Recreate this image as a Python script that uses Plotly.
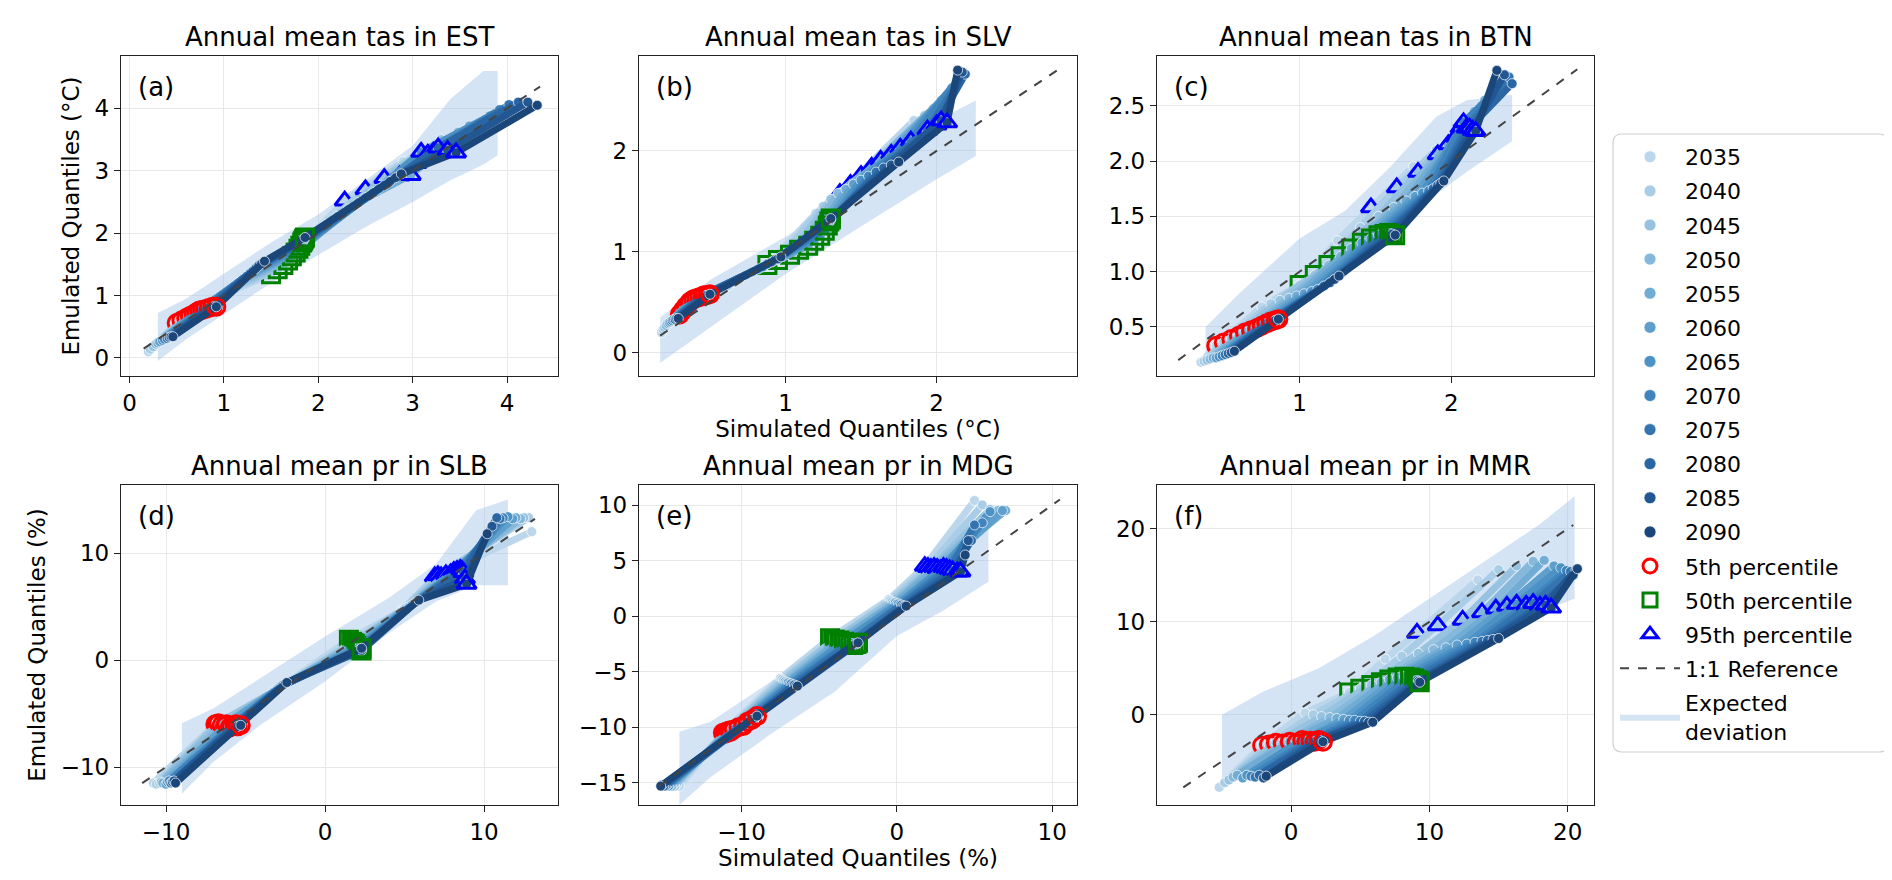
import plotly.graph_objects as go

YEARS = [2035, 2040, 2045, 2050, 2055, 2060, 2065, 2070, 2075, 2080, 2085, 2090]

# Each *_SIM / *_EMU holds 7 rows (min, 5th, 25th, 50th, 75th, 95th, max quantile),
# each row has one value per year (2035 ... 2090).
A_SIM = [
    [0.20, 0.22, 0.25, 0.28, 0.30, 0.32, 0.35, 0.37, 0.40, 0.42, 0.44, 0.46],
    [0.50, 0.55, 0.60, 0.64, 0.68, 0.71, 0.74, 0.77, 0.80, 0.84, 0.88, 0.92],
    [1.00, 1.06, 1.11, 1.16, 1.20, 1.24, 1.28, 1.31, 1.34, 1.37, 1.40, 1.43],
    [1.50, 1.57, 1.63, 1.68, 1.72, 1.76, 1.79, 1.81, 1.83, 1.84, 1.85, 1.86],
    [1.95, 2.08, 2.20, 2.32, 2.42, 2.50, 2.58, 2.64, 2.70, 2.76, 2.82, 2.88],
    [2.28, 2.50, 2.70, 2.86, 2.98, 3.04, 3.09, 3.16, 3.22, 3.27, 3.37, 3.46],
    [2.90, 3.10, 3.30, 3.48, 3.60, 3.72, 3.82, 3.92, 4.02, 4.12, 4.22, 4.32],
]
A_EMU = [
    [0.10, 0.14, 0.18, 0.22, 0.24, 0.26, 0.28, 0.30, 0.31, 0.33, 0.34, 0.34],
    [0.56, 0.60, 0.64, 0.67, 0.70, 0.73, 0.76, 0.77, 0.78, 0.80, 0.82, 0.82],
    [1.02, 1.09, 1.15, 1.21, 1.26, 1.31, 1.36, 1.40, 1.44, 1.48, 1.51, 1.55],
    [1.34, 1.42, 1.49, 1.56, 1.63, 1.69, 1.75, 1.80, 1.85, 1.88, 1.91, 1.93],
    [2.00, 2.14, 2.27, 2.39, 2.49, 2.57, 2.65, 2.71, 2.77, 2.83, 2.89, 2.95],
    [2.52, 2.70, 2.88, 2.92, 2.93, 3.12, 3.30, 3.27, 3.30, 3.37, 3.33, 3.29],
    [3.15, 3.32, 3.50, 3.62, 3.72, 3.78, 3.88, 3.98, 4.06, 4.10, 4.10, 4.05],
]
B_SIM = [
    [0.18, 0.19, 0.20, 0.21, 0.22, 0.23, 0.24, 0.25, 0.26, 0.27, 0.28, 0.29],
    [0.30, 0.32, 0.34, 0.36, 0.37, 0.39, 0.41, 0.43, 0.45, 0.46, 0.48, 0.50],
    [0.62, 0.66, 0.70, 0.74, 0.78, 0.82, 0.85, 0.88, 0.91, 0.93, 0.95, 0.97],
    [0.88, 0.95, 1.03, 1.09, 1.15, 1.19, 1.23, 1.26, 1.28, 1.29, 1.30, 1.30],
    [1.20, 1.25, 1.30, 1.35, 1.40, 1.45, 1.50, 1.55, 1.60, 1.65, 1.70, 1.75],
    [1.36, 1.43, 1.50, 1.57, 1.63, 1.70, 1.76, 1.83, 1.94, 2.00, 2.03, 2.07],
    [1.85, 1.92, 1.98, 2.03, 2.07, 2.10, 2.13, 2.15, 2.17, 2.19, 2.17, 2.14],
]
B_EMU = [
    [0.20, 0.23, 0.25, 0.27, 0.29, 0.30, 0.31, 0.32, 0.33, 0.33, 0.34, 0.34],
    [0.38, 0.42, 0.46, 0.49, 0.51, 0.53, 0.54, 0.55, 0.56, 0.57, 0.57, 0.58],
    [0.66, 0.70, 0.74, 0.77, 0.80, 0.83, 0.85, 0.88, 0.90, 0.92, 0.93, 0.95],
    [0.87, 0.92, 0.97, 1.02, 1.06, 1.11, 1.16, 1.21, 1.26, 1.30, 1.32, 1.33],
    [1.38, 1.45, 1.52, 1.58, 1.62, 1.67, 1.71, 1.75, 1.79, 1.83, 1.86, 1.89],
    [1.58, 1.67, 1.76, 1.84, 1.91, 1.97, 2.03, 2.10, 2.21, 2.26, 2.30, 2.28],
    [2.30, 2.35, 2.42, 2.50, 2.55, 2.62, 2.68, 2.72, 2.74, 2.76, 2.78, 2.80],
]
C_SIM = [
    [0.35, 0.37, 0.39, 0.41, 0.43, 0.45, 0.47, 0.49, 0.51, 0.53, 0.55, 0.57],
    [0.45, 0.50, 0.55, 0.60, 0.64, 0.68, 0.72, 0.75, 0.78, 0.81, 0.84, 0.86],
    [0.75, 0.81, 0.87, 0.93, 0.98, 1.03, 1.08, 1.12, 1.16, 1.20, 1.23, 1.26],
    [1.00, 1.10, 1.19, 1.27, 1.34, 1.41, 1.47, 1.52, 1.56, 1.59, 1.61, 1.63],
    [1.25, 1.40, 1.52, 1.62, 1.70, 1.76, 1.81, 1.85, 1.88, 1.91, 1.93, 1.95],
    [1.47, 1.64, 1.78, 1.91, 1.98, 2.03, 2.06, 2.08, 2.10, 2.12, 2.14, 2.16],
    [1.75, 1.90, 2.05, 2.15, 2.22, 2.28, 2.32, 2.36, 2.38, 2.40, 2.35, 2.30],
]
C_EMU = [
    [0.18, 0.19, 0.20, 0.21, 0.22, 0.22, 0.23, 0.24, 0.25, 0.26, 0.27, 0.28],
    [0.33, 0.36, 0.39, 0.42, 0.45, 0.47, 0.49, 0.51, 0.53, 0.55, 0.56, 0.57],
    [0.68, 0.71, 0.74, 0.76, 0.78, 0.80, 0.82, 0.84, 0.87, 0.90, 0.93, 0.96],
    [0.88, 0.97, 1.06, 1.14, 1.21, 1.26, 1.30, 1.33, 1.34, 1.35, 1.34, 1.33],
    [1.28, 1.40, 1.50, 1.58, 1.64, 1.68, 1.71, 1.73, 1.75, 1.78, 1.80, 1.82],
    [1.58, 1.76, 1.90, 2.06, 2.15, 2.22, 2.30, 2.35, 2.30, 2.30, 2.28, 2.27],
    [1.95, 2.10, 2.28, 2.45, 2.55, 2.62, 2.68, 2.72, 2.76, 2.70, 2.78, 2.82],
]
D_SIM = [
    [-10.8, -10.6, -10.4, -10.3, -10.2, -10.0, -9.9, -9.8, -9.7, -9.6, -9.5, -9.4],
    [-6.9, -6.8, -6.7, -6.5, -6.3, -6.2, -6.0, -5.9, -5.7, -5.6, -5.5, -5.3],
    [-3.5, -3.4, -3.3, -3.2, -3.1, -3.0, -2.9, -2.8, -2.7, -2.6, -2.5, -2.4],
    [1.5, 1.7, 1.8, 1.9, 2.0, 2.0, 2.1, 2.1, 2.2, 2.2, 2.3, 2.3],
    [4.8, 4.9, 5.0, 5.1, 5.2, 5.3, 5.4, 5.5, 5.6, 5.7, 5.8, 5.9],
    [6.9, 7.1, 7.3, 7.6, 7.9, 8.1, 8.3, 8.5, 8.6, 8.7, 8.8, 8.9],
    [13.0, 12.8, 12.5, 12.3, 12.0, 11.8, 11.5, 11.2, 11.0, 10.8, 10.5, 10.2],
]
D_EMU = [
    [-11.5, -11.6, -11.5, -11.4, -11.5, -11.6, -11.4, -11.3, -11.5, -11.4, -11.3, -11.5],
    [-6.0, -6.0, -5.9, -6.1, -6.2, -6.0, -6.3, -6.2, -6.1, -6.0, -6.2, -6.1],
    [-3.3, -3.2, -3.0, -2.9, -2.8, -2.7, -2.6, -2.5, -2.4, -2.3, -2.2, -2.1],
    [1.9, 1.7, 1.6, 1.5, 1.4, 1.3, 1.2, 1.1, 1.0, 1.0, 0.9, 1.1],
    [4.6, 4.7, 4.8, 4.9, 4.9, 5.0, 5.1, 5.2, 5.3, 5.4, 5.5, 5.6],
    [7.8, 7.9, 7.8, 8.0, 8.1, 8.3, 8.4, 8.5, 8.4, 8.2, 7.6, 7.1],
    [12.0, 13.3, 13.3, 13.2, 13.3, 13.2, 13.4, 13.3, 13.2, 13.3, 12.5, 11.8],
]
E_SIM = [
    [-14.0, -14.2, -14.3, -14.4, -14.5, -14.6, -14.7, -14.8, -14.9, -15.0, -15.1, -15.2],
    [-11.2, -11.1, -11.0, -10.9, -10.8, -10.7, -10.5, -10.2, -9.9, -9.6, -9.3, -9.0],
    [-7.5, -7.4, -7.3, -7.2, -7.1, -7.0, -6.9, -6.8, -6.7, -6.6, -6.5, -6.4],
    [-4.3, -4.1, -4.0, -3.9, -3.7, -3.6, -3.4, -3.2, -3.0, -2.8, -2.6, -2.5],
    [-0.5, -0.4, -0.3, -0.2, -0.1, 0.0, 0.1, 0.2, 0.3, 0.4, 0.5, 0.6],
    [1.8, 2.0, 2.2, 2.4, 2.6, 2.8, 3.0, 3.2, 3.4, 3.6, 3.9, 4.1],
    [5.0, 5.5, 6.0, 6.5, 7.0, 6.8, 6.0, 5.5, 5.0, 4.8, 4.6, 4.4],
]
E_EMU = [
    [-15.3, -15.2, -15.3, -15.2, -15.3, -15.2, -15.3, -15.2, -15.3, -15.3, -15.2, -15.3],
    [-10.5, -10.6, -10.4, -10.5, -10.3, -10.4, -10.2, -10.0, -9.9, -9.5, -9.3, -9.0],
    [-5.6, -5.7, -5.8, -5.9, -6.0, -6.0, -6.1, -6.1, -6.2, -6.2, -6.3, -6.3],
    [-2.0, -2.2, -2.1, -2.3, -2.2, -2.4, -2.3, -2.5, -2.4, -2.6, -2.5, -2.4],
    [1.5, 1.4, 1.3, 1.2, 1.2, 1.1, 1.1, 1.0, 1.0, 0.9, 0.9, 0.9],
    [4.5, 4.4, 4.3, 4.4, 4.3, 4.2, 4.4, 4.3, 4.2, 4.1, 4.0, 4.0],
    [10.4, 10.0, 9.6, 9.5, 9.5, 9.5, 9.4, 8.4, 8.2, 6.8, 6.8, 5.5],
]
F_SIM = [
    [-5.2, -4.8, -4.5, -4.2, -3.9, -3.5, -3.2, -2.9, -2.6, -2.3, -2.0, -1.8],
    [-2.1, -1.6, -1.1, -0.6, -0.1, 0.4, 0.8, 1.1, 1.4, 1.7, 2.0, 2.3],
    [1.0, 1.6, 2.2, 2.8, 3.3, 3.8, 4.2, 4.6, 5.0, 5.3, 5.6, 5.9],
    [4.2, 5.0, 5.8, 6.5, 7.1, 7.7, 8.2, 8.6, 8.9, 9.1, 9.2, 9.3],
    [6.8, 8.0, 9.2, 10.3, 11.2, 12.0, 12.7, 13.3, 13.8, 14.2, 14.6, 15.0],
    [9.1, 10.6, 12.4, 13.8, 14.8, 15.6, 16.3, 17.0, 17.5, 18.0, 18.4, 18.8],
    [13.5, 15.0, 16.3, 17.5, 18.3, 19.0, 19.5, 19.9, 20.2, 20.4, 20.6, 20.7],
]
F_EMU = [
    [-7.8, -7.3, -7.0, -6.7, -6.5, -6.8, -6.5, -6.6, -6.7, -6.5, -6.8, -6.6],
    [-3.3, -3.2, -3.0, -3.1, -2.9, -3.0, -2.7, -2.9, -2.8, -2.9, -2.7, -2.9],
    [0.2, 0.0, -0.2, -0.3, -0.4, -0.5, -0.6, -0.6, -0.7, -0.7, -0.8, -0.8],
    [2.4, 2.8, 3.2, 3.5, 3.8, 4.0, 4.1, 4.0, 3.9, 3.7, 3.6, 3.5],
    [6.0, 6.3, 6.6, 7.0, 7.2, 7.5, 7.6, 7.8, 7.9, 8.0, 8.1, 8.2],
    [8.8, 9.6, 10.2, 11.0, 11.4, 11.7, 11.9, 11.8, 12.0, 11.7, 11.8, 11.5],
    [14.5, 15.6, 16.0, 16.5, 16.6, 16.0, 15.8, 15.5, 15.4, 15.0, 15.6, 15.7],
]

# Expected-deviation bands (x, lower, upper)
A_BAND_X = [0.30, 0.60, 1.00, 1.50, 2.00, 2.50, 3.00, 3.40, 3.75, 3.90]
A_BAND_LO = [-0.05, 0.30, 0.70, 1.20, 1.65, 2.10, 2.50, 2.85, 3.10, 3.25]
A_BAND_HI = [0.72, 0.95, 1.35, 1.85, 2.30, 2.85, 3.40, 4.15, 4.60, 4.60]
B_BAND_X = [0.17, 0.50, 1.00, 1.50, 2.00, 2.26]
B_BAND_LO = [-0.10, 0.25, 0.78, 1.25, 1.72, 1.95]
B_BAND_HI = [0.35, 0.72, 1.15, 1.60, 2.30, 2.50]
C_BAND_X = [0.38, 0.60, 1.00, 1.30, 1.60, 1.90, 2.10, 2.40]
C_BAND_LO = [0.15, 0.35, 0.70, 0.95, 1.35, 1.70, 1.90, 2.18]
C_BAND_HI = [0.50, 0.80, 1.30, 1.55, 1.95, 2.40, 2.55, 2.60]
D_BAND_X = [-9.0, -7.0, -4.0, 0.0, 4.0, 7.0, 9.5, 11.5]
D_BAND_LO = [-12.5, -9.5, -6.0, -2.0, 2.5, 5.5, 7.0, 7.0]
D_BAND_HI = [-5.9, -4.5, -1.6, 2.2, 5.8, 9.0, 14.0, 15.0]
E_BAND_X = [-14.0, -12.0, -8.0, -4.0, 0.0, 3.0, 5.9]
E_BAND_LO = [-17.0, -14.5, -10.5, -6.8, -1.8, 0.5, 3.1]
E_BAND_HI = [-10.4, -9.5, -5.8, -1.8, 2.4, 5.5, 8.7]
F_BAND_X = [-5.0, -2.0, 2.0, 6.0, 10.0, 14.0, 18.0, 20.5]
F_BAND_LO = [-7.5, -5.0, -1.5, 1.5, 5.0, 8.0, 11.0, 12.5]
F_BAND_HI = [0.0, 2.5, 5.0, 8.5, 12.5, 16.5, 20.5, 23.5]

# 1:1 reference line extents
A_REF = [0.15, 4.35]
B_REF = [0.17, 2.80]
C_REF = [0.20, 2.83]
D_REF = [-11.5, 13.2]
E_REF = [-15.3, 10.5]
F_REF = [-7.8, 20.4]

TITLES = ["Annual mean tas in EST", "Annual mean tas in SLV", "Annual mean tas in BTN",
          "Annual mean pr in SLB", "Annual mean pr in MDG", "Annual mean pr in MMR"]
LABELS = ["(a)", "(b)", "(c)", "(d)", "(e)", "(f)"]

YEAR_COLORS = ["#bcd7ec", "#a9cde6", "#98c3e0", "#85b8da", "#71acd4", "#5f9fcd",
               "#4d92c5", "#3f84bc", "#3475b0", "#2a66a3", "#215793", "#1b4679"]
BAND_COLOR = "rgba(160,196,232,0.45)"
FONT = "DejaVu Sans"

W, H = 1892, 880
COLS = [(113, 550), (631, 1069), (1149, 1586)]
ROWS = [(48, 368), (477, 797)]
LEG_BOX = (1605, 126, 1880, 744)  # left, top, right, bottom in px

panels = [
    dict(sim=A_SIM, emu=A_EMU, band=(A_BAND_X, A_BAND_LO, A_BAND_HI), ref=A_REF,
         xr=[-0.09, 4.54], yr=[-0.29, 4.84], xt=[0, 1, 2, 3, 4], yt=[0, 1, 2, 3, 4], fmt=None),
    dict(sim=B_SIM, emu=B_EMU, band=(B_BAND_X, B_BAND_LO, B_BAND_HI), ref=B_REF,
         xr=[0.03, 2.93], yr=[-0.23, 2.94], xt=[1, 2], yt=[0, 1, 2], fmt=None),
    dict(sim=C_SIM, emu=C_EMU, band=(C_BAND_X, C_BAND_LO, C_BAND_HI), ref=C_REF,
         xr=[0.06, 2.94], yr=[0.056, 2.95], xt=[1, 2], yt=[0.5, 1.0, 1.5, 2.0, 2.5], fmt=".1f"),
    dict(sim=D_SIM, emu=D_EMU, band=(D_BAND_X, D_BAND_LO, D_BAND_HI), ref=D_REF,
         xr=[-12.83, 14.65], yr=[-13.55, 16.36], xt=[-10, 0, 10], yt=[-10, 0, 10], fmt=None),
    dict(sim=E_SIM, emu=E_EMU, band=(E_BAND_X, E_BAND_LO, E_BAND_HI), ref=E_REF,
         xr=[-16.6, 11.6], yr=[-17.0, 11.8], xt=[-10, 0, 10], yt=[-15, -10, -5, 0, 5, 10], fmt=None),
    dict(sim=F_SIM, emu=F_EMU, band=(F_BAND_X, F_BAND_LO, F_BAND_HI), ref=F_REF,
         xr=[-9.7, 21.9], yr=[-9.7, 24.7], xt=[0, 10, 20], yt=[0, 10, 20], fmt=None),
]

fig = go.Figure()
annotations = []
layout_axes = {}

for k, p in enumerate(panels):
    r, c = divmod(k, 3)
    l, rr = COLS[c]
    t, b = ROWS[r]
    xa = "x" if k == 0 else f"x{k+1}"
    ya = "y" if k == 0 else f"y{k+1}"
    xname = "xaxis" if k == 0 else f"xaxis{k+1}"
    yname = "yaxis" if k == 0 else f"yaxis{k+1}"

    bx, blo, bhi = p["band"]
    fig.add_trace(go.Scatter(
        x=bx + bx[::-1], y=blo + bhi[::-1], fill="toself", fillcolor=BAND_COLOR,
        line=dict(width=0), mode="lines", hoverinfo="skip",
        name="Expected<br>deviation", showlegend=(k == 0), legendrank=17,
        legendgroup="band", xaxis=xa, yaxis=ya))

    sim, emu = p["sim"], p["emu"]
    for i, yr in enumerate(YEARS):
        xs = [row[i] for row in sim]
        ys = [row[i] for row in emu]
        fig.add_trace(go.Scatter(
            x=xs, y=ys, mode="lines+markers",
            line=dict(color=YEAR_COLORS[i], width=7),
            marker=dict(size=10, color=YEAR_COLORS[i], line=dict(color="white", width=0.7)),
            name=str(yr), showlegend=False, xaxis=xa, yaxis=ya))
        fig.add_trace(go.Scatter(
            x=[sim[1][i], sim[3][i], sim[5][i]], y=[emu[1][i], emu[3][i], emu[5][i]],
            mode="markers",
            marker=dict(size=17, symbol=["circle-open", "square-open", "triangle-up-open"],
                        color=["#ff0000", "#008000", "#0000ff"], line=dict(width=3)),
            showlegend=False, xaxis=xa, yaxis=ya))

    fig.add_trace(go.Scatter(
        x=p["ref"], y=p["ref"], mode="lines",
        line=dict(color="#444444", width=2, dash="dash"),
        showlegend=False, xaxis=xa, yaxis=ya))

    axis_common = dict(showline=True, mirror=True, linecolor="#222222", linewidth=1.3,
                       ticks="outside", ticklen=6, tickwidth=1.2, tickcolor="#222222",
                       showgrid=True, gridcolor="#e8e8e8", gridwidth=1, zeroline=False,
                       tickfont=dict(family=FONT, size=23, color="black"))
    layout_axes[xname] = dict(axis_common, domain=[l / W, rr / W], range=p["xr"],
                              tickvals=p["xt"], anchor=ya)
    yax = dict(axis_common, domain=[1 - b / H, 1 - t / H], range=p["yr"],
               tickvals=p["yt"], anchor=xa)
    if p["fmt"]:
        yax["tickformat"] = p["fmt"]
    layout_axes[yname] = yax

    annotations.append(dict(text=TITLES[k], x=(l + rr) / 2 / W, y=1 - t / H, xref="paper",
                            yref="paper", xanchor="center", yanchor="bottom", yshift=2,
                            showarrow=False, font=dict(family=FONT, size=26, color="black")))
    annotations.append(dict(text=LABELS[k], x=(l + 15) / W, y=1 - (t + 31) / H, xref="paper",
                            yref="paper", xanchor="left", yanchor="middle",
                            showarrow=False, font=dict(family=FONT, size=26, color="black")))

# axis titles
layout_axes["yaxis"]["title"] = dict(text="Emulated Quantiles (°C)", font=dict(family=FONT, size=23), standoff=8)
layout_axes["yaxis4"]["title"] = dict(text="Emulated Quantiles (%)", font=dict(family=FONT, size=23), standoff=8)
layout_axes["xaxis2"]["title"] = dict(text="Simulated Quantiles (°C)", font=dict(family=FONT, size=23), standoff=6)
layout_axes["xaxis5"]["title"] = dict(text="Simulated Quantiles (%)", font=dict(family=FONT, size=23), standoff=6)

# legend-only entries
for i, yr in enumerate(YEARS):
    fig.add_trace(go.Scatter(
        x=[None], y=[None], mode="markers",
        marker=dict(size=12, color=YEAR_COLORS[i], line=dict(color="white", width=0.7)),
        name=str(yr), legendrank=i + 1, legendgroup=f"g{i}", showlegend=True))
for j, (nm, sym, col) in enumerate([("5th percentile", "circle-open", "#ff0000"),
                                     ("50th percentile", "square-open", "#008000"),
                                     ("95th percentile", "triangle-up-open", "#0000ff")]):
    fig.add_trace(go.Scatter(
        x=[None], y=[None], mode="markers",
        marker=dict(size=14, symbol=sym, color=col, line=dict(width=3)),
        name=nm, legendrank=13 + j, legendgroup=f"p{j}", showlegend=True))
fig.add_trace(go.Scatter(
    x=[None], y=[None], mode="lines", line=dict(color="#444444", width=2, dash="dash"),
    name="1:1 Reference", legendrank=16, legendgroup="ref", showlegend=True))

# rounded legend frame
lx0, ly0, lx1, ly1 = LEG_BOX
rad = 9
X = lambda v: v / W
Y = lambda v: 1 - v / H
frame = (f"M {X(lx0 + rad)},{Y(ly0)} L {X(lx1 - rad)},{Y(ly0)} Q {X(lx1)},{Y(ly0)} {X(lx1)},{Y(ly0 + rad)} "
         f"L {X(lx1)},{Y(ly1 - rad)} Q {X(lx1)},{Y(ly1)} {X(lx1 - rad)},{Y(ly1)} "
         f"L {X(lx0 + rad)},{Y(ly1)} Q {X(lx0)},{Y(ly1)} {X(lx0)},{Y(ly1 - rad)} "
         f"L {X(lx0)},{Y(ly0 + rad)} Q {X(lx0)},{Y(ly0)} {X(lx0 + rad)},{Y(ly0)} Z")

fig.update_layout(
    width=W, height=H, margin=dict(l=0, r=0, t=0, b=0),
    paper_bgcolor="white", plot_bgcolor="white",
    font=dict(family=FONT, size=22, color="black"),
    annotations=annotations,
    shapes=[dict(type="path", path=frame, xref="paper", yref="paper",
                 line=dict(color="#cfcfcf", width=1.2), fillcolor="white", layer="above")],
    showlegend=True,
    legend=dict(x=(lx0 + 2) / W, y=1 - (ly0 + 2) / H, xanchor="left", yanchor="top",
                bgcolor="rgba(0,0,0,0)", borderwidth=0,
                font=dict(family=FONT, size=22), tracegroupgap=2.5, itemwidth=60),
    **layout_axes,
)

fig.write_html("out.html")
